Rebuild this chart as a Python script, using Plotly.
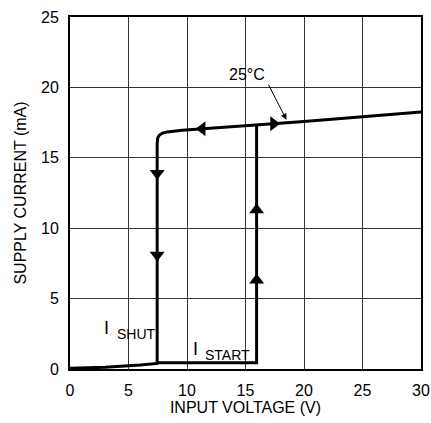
import plotly.graph_objects as go

# Shutdown branch (decreasing input) and main curve
shut_v = [0, 3, 6, 7.45, 7.45, 7.5, 7.65, 7.9, 8.3, 8.9, 9.6, 10.5, 12, 16, 20, 25, 30]
shut_i = [0.05, 0.12, 0.28, 0.4, 16.0, 16.42, 16.62, 16.75, 16.84, 16.91, 16.96, 17.01, 17.1, 17.32, 17.58, 17.92, 18.25]
# Start branch (increasing input)
start_v = [7.45, 15.95, 15.95]
start_i = [0.45, 0.45, 17.3]

# Direction arrows
arr_left_v, arr_left_i = [11.3], [17.07]
arr_right_v, arr_right_i = [17.4], [17.42]
arr_down_v, arr_down_i = [7.45, 7.45], [13.9, 8.1]
arr_up_v, arr_up_i = [15.95, 15.95], [11.3, 6.3]

font = "Liberation Sans, Arial, sans-serif"

fig = go.Figure()
fig.add_trace(go.Scatter(x=shut_v, y=shut_i, mode="lines",
                         line=dict(color="black", width=3)))
fig.add_trace(go.Scatter(x=start_v, y=start_i, mode="lines",
                         line=dict(color="black", width=3)))
for xs, ys, sym in [(arr_left_v, arr_left_i, "triangle-left"),
                    (arr_right_v, arr_right_i, "triangle-right"),
                    (arr_down_v, arr_down_i, "triangle-down"),
                    (arr_up_v, arr_up_i, "triangle-up")]:
    fig.add_trace(go.Scatter(x=xs, y=ys, mode="markers",
                             marker=dict(symbol=sym, size=13, color="black")))

fig.add_annotation(x=18.5, y=17.7, ax=16.9, ay=20.3, axref="x", ayref="y",
                   xref="x", yref="y", text="", showarrow=True,
                   arrowhead=2, arrowsize=1.2, arrowwidth=1, arrowcolor="black")
fig.add_annotation(x=15.1, y=20.95, text="25°C", showarrow=False,
                   font=dict(size=16, color="black", family=font))
# I SHUT label
fig.add_annotation(x=3.16, y=2.91, text="I", showarrow=False,
                   font=dict(size=18, color="black", family=font))
fig.add_annotation(x=3.85, y=2.5, xanchor="left", text="SHUT", showarrow=False,
                   font=dict(size=14, color="black", family=font))
# I START label
fig.add_annotation(x=10.7, y=1.42, text="I", showarrow=False,
                   font=dict(size=18, color="black", family=font))
fig.add_annotation(x=11.37, y=1.02, xanchor="left", text="START", showarrow=False,
                   font=dict(size=14, color="black", family=font))

axis_common = dict(showgrid=True, gridcolor="#333", gridwidth=1, zeroline=False,
                   showline=True, linecolor="black", linewidth=2, mirror=True,
                   ticks="", tickfont=dict(size=16, color="black", family=font),
                   dtick=5, ticklabelstandoff=6, automargin=False)
fig.update_xaxes(range=[0, 30], title=dict(text="INPUT VOLTAGE (V)", standoff=4,
                 font=dict(size=16, color="black", family=font)), **axis_common)
fig.update_yaxes(range=[0, 25], title=dict(text="SUPPLY CURRENT (mA)", standoff=10,
                 font=dict(size=16, color="black", family=font)), **axis_common)

fig.update_layout(width=431, height=423, margin=dict(l=70, r=10, t=17, b=54),
                  plot_bgcolor="white", paper_bgcolor="white", showlegend=False,
                  font=dict(family=font, color="black"))
fig.write_html("out.html")
